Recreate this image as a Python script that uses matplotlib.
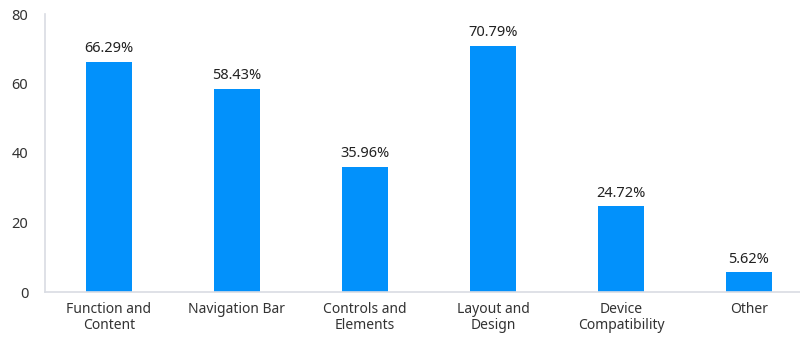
import matplotlib
matplotlib.use("Agg")
import matplotlib.pyplot as plt

categories = ["Function and\nContent", "Navigation Bar", "Controls and\nElements",
              "Layout and\nDesign", "Device\nCompatibility", "Other"]
values = [66.29, 58.43, 35.96, 70.79, 24.72, 5.62]
yticks = [0, 20, 40, 60, 80]

plt.rcParams['font.family'] = ['Noto Sans', 'DejaVu Sans']
fig = plt.figure(figsize=(8, 3.37), dpi=100)
ax = fig.add_axes([45/800, 45/337, 755/800, 278/337])
x = list(range(len(categories)))
bars = ax.bar(x, values, width=0.36, color="#0291fb")
for xi, v in zip(x, values):
    ax.text(xi, v + 1.6, f"{v:.2f}%", ha="center", va="bottom", fontsize=10.5, color="#222222")
ax.set_xlim(-0.5, -0.5 + 755/128)
ax.set_ylim(0, 80)
ax.set_yticks(yticks)
ax.set_xticks(x)
ax.set_xticklabels(categories, fontsize=10, color="#333333", linespacing=1.15)
ax.tick_params(axis="y", labelsize=10.5, labelcolor="#333333", length=0, pad=12)
ax.tick_params(axis="x", length=0, pad=7)
for s in ["top", "right"]:
    ax.spines[s].set_visible(False)
for s in ["left", "bottom"]:
    ax.spines[s].set_color("#d9dce3")
    ax.spines[s].set_linewidth(1.2)
fig.savefig("out.png", dpi=100)
